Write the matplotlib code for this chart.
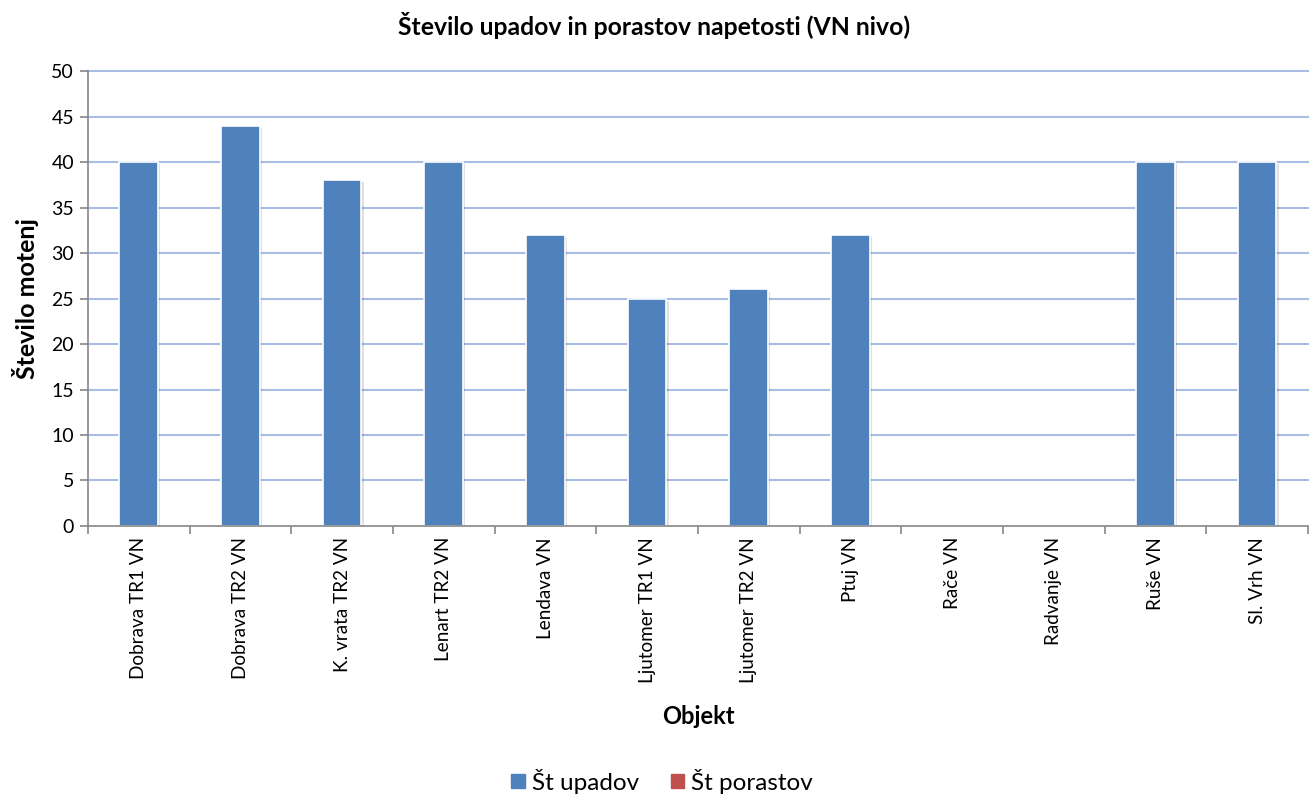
import matplotlib
matplotlib.use("Agg")
import matplotlib.pyplot as plt
import matplotlib.patheffects as pe
import numpy as np

plt.rcParams['font.family'] = ['Lato', 'DejaVu Sans']

categories = ["Dobrava TR1 VN", "Dobrava TR2 VN", "K. vrata TR2 VN", "Lenart TR2 VN",
              "Lendava VN", "Ljutomer TR1 VN", "Ljutomer TR2 VN", "Ptuj VN",
              "Rače VN", "Radvanje VN", "Ruše VN", "Sl. Vrh VN"]
upadi = [40, 44, 38, 40, 32, 25, 26, 32, 0, 0, 40, 40]
porasti = [0, 0, 0, 0, 0, 0, 0, 0, 0, 0, 0, 0]
y_ticks = [0, 5, 10, 15, 20, 25, 30, 35, 40, 45, 50]

blue = "#4F81BD"
red = "#C0504D"
grid_col = "#A7BDE6"
axis_col = "#868686"

fig = plt.figure(figsize=(13.09, 7.98), dpi=100)
ax = fig.add_axes([0.0672, 0.3409, 0.9320, 0.5700])

x = np.arange(len(categories))
width = 0.38
shadow = [pe.SimplePatchShadow(offset=(1.5, -1.5), shadow_rgbFace="#000000", alpha=0.12),
          pe.Normal()]
bars = ax.bar(x, upadi, width, color=blue, edgecolor="white", linewidth=1.2,
              label="Št upadov", zorder=2.2, path_effects=shadow)
for b, v in zip(bars, upadi):
    if v == 0:
        b.set_visible(False)
ax.bar(x, porasti, width, color=red, linewidth=0, label="Št porastov", zorder=2.2)

ax.set_xlim(-0.5, len(categories) - 0.5)
ax.set_ylim(0, 50)
ax.set_yticks(y_ticks)
for yv in y_ticks[1:]:
    ax.axhline(yv, color=grid_col, linewidth=1.5, zorder=1, clip_on=False)

ax.set_xticks(x)
ax.set_xticklabels(categories, rotation=90, fontsize=13.6)
ax.set_xticks(np.arange(len(categories) + 1) - 0.5, minor=True)
ax.tick_params(axis="x", which="major", length=0, pad=8)
ax.tick_params(axis="x", which="minor", length=6, color=axis_col, width=1.2)
ax.tick_params(axis="y", length=6, color=axis_col, width=1.2, labelsize=14, pad=4)

for s in ["top", "right"]:
    ax.spines[s].set_visible(False)
for s in ["left", "bottom"]:
    ax.spines[s].set_color(axis_col)
    ax.spines[s].set_linewidth(1.2)
    ax.spines[s].set_zorder(4)

ax.set_ylabel("Število motenj", fontsize=18, fontweight="bold", labelpad=9)
ax.set_xlabel("Objekt", fontsize=17, fontweight="bold", labelpad=16)
fig.suptitle("Število upadov in porastov napetosti (VN nivo)", fontsize=17.8,
             fontweight="bold", x=0.5, y=0.985)

handles = [plt.Rectangle((0, 0), 1, 1, color=blue), plt.Rectangle((0, 0), 1, 1, color=red)]
fig.legend(handles, ["Št upadov", "Št porastov"], loc="lower center",
           bbox_to_anchor=(0.506, -0.022), ncol=2, frameon=False, fontsize=17.5,
           handlelength=0.55, handleheight=0.55, handletextpad=0.3, columnspacing=1.3)

fig.savefig("out.png", dpi=100, facecolor="white")
